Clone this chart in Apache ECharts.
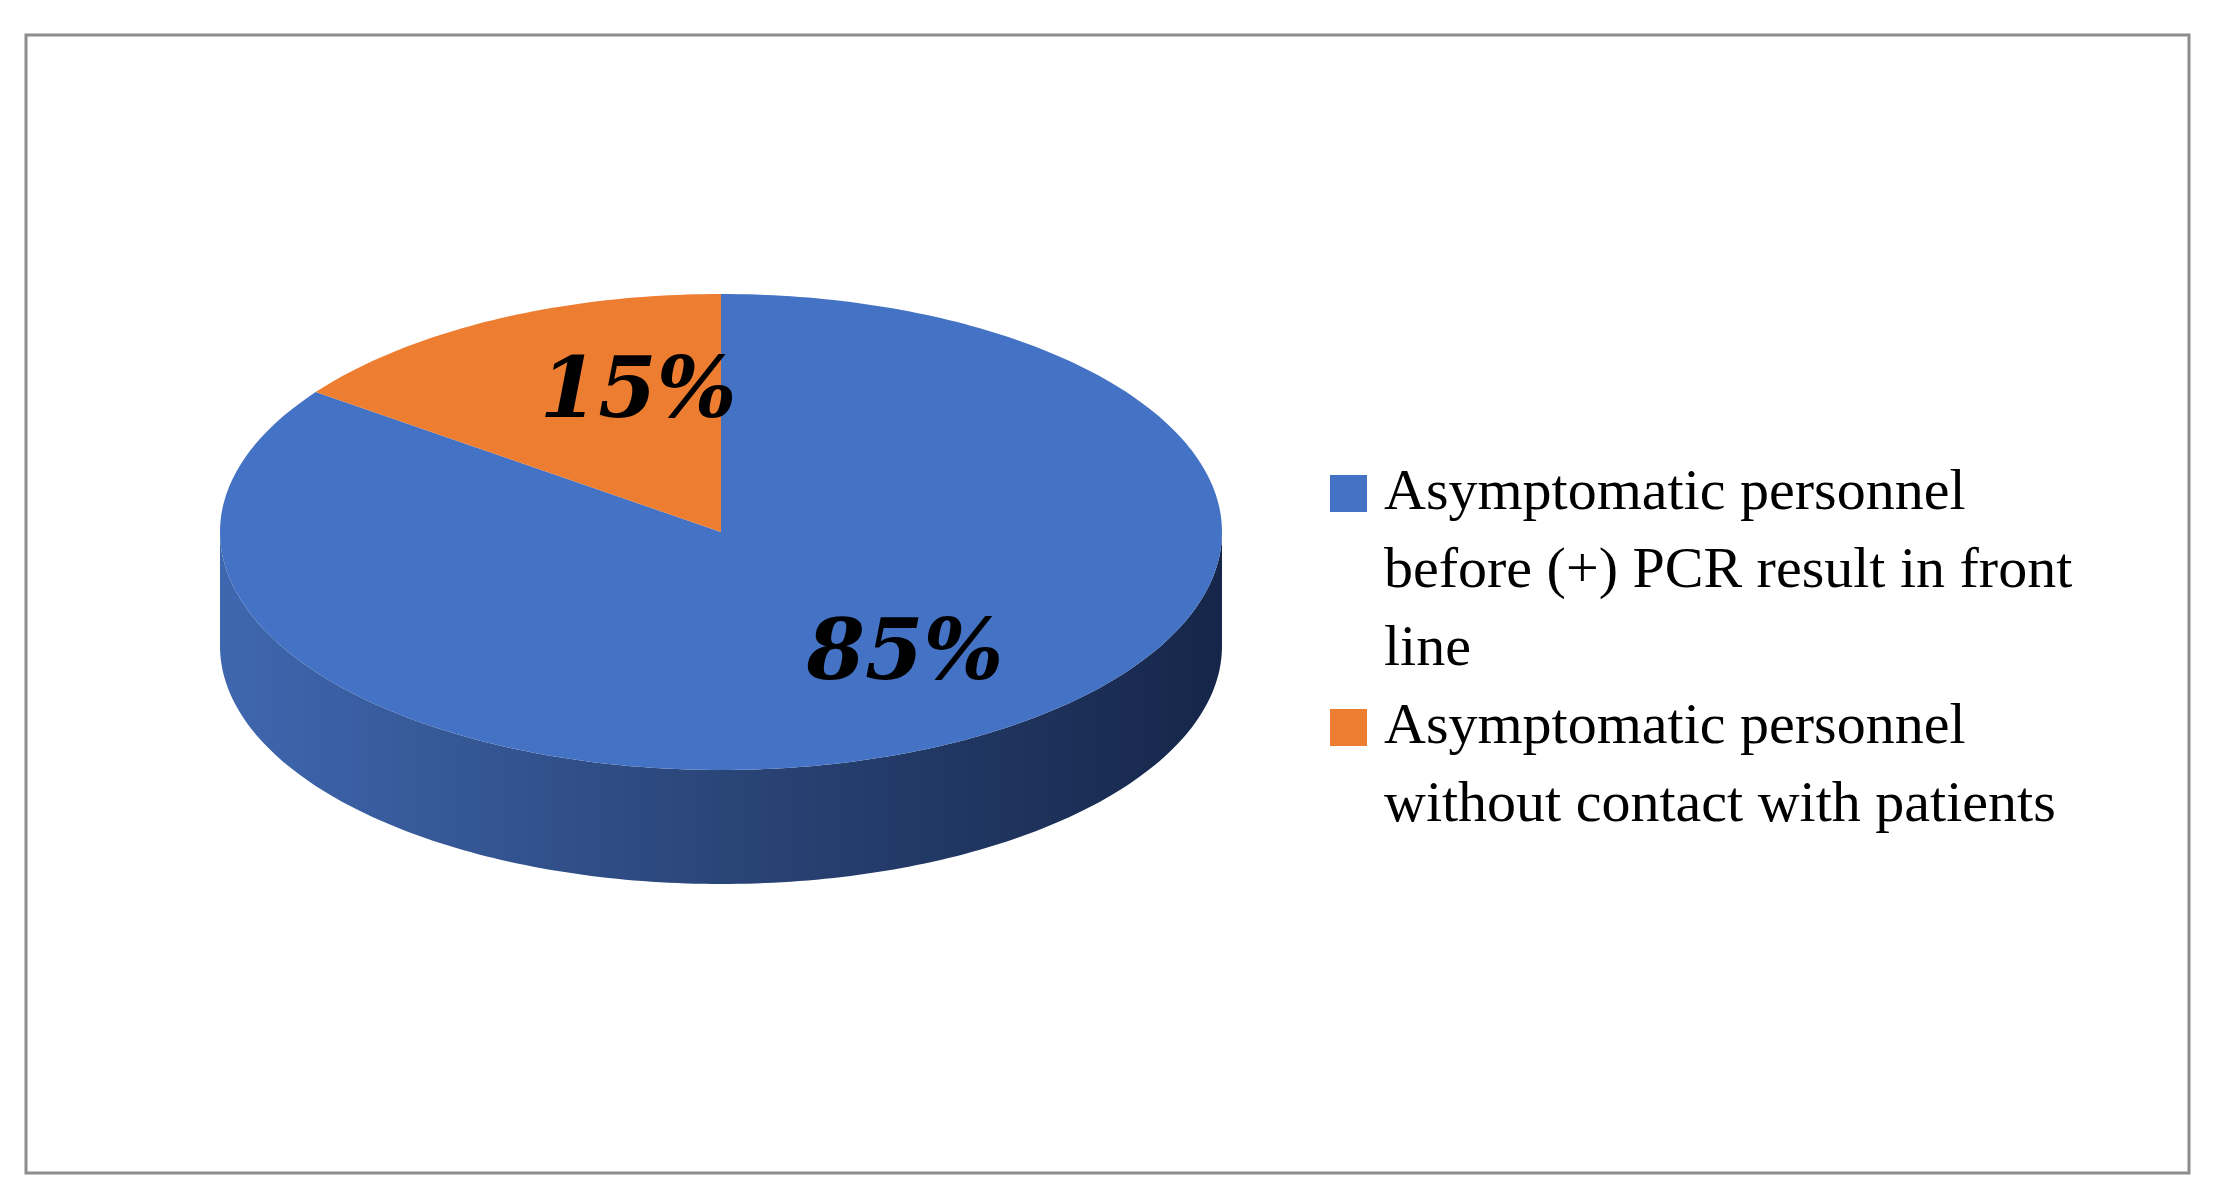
<!DOCTYPE html>
<html>
<head>
<meta charset="utf-8">
<script src="https://cdn.jsdelivr.net/npm/echarts@6/dist/echarts.min.js"></script>
<style>
  html, body { margin: 0; padding: 0; background: #fff; }
  #main { width: 2214px; height: 1202px; }
</style>
</head>
<body>
<div id="main"></div>
<script>
var categories = [
  'Asymptomatic personnel\nbefore (+) PCR result in front\nline',
  'Asymptomatic personnel\nwithout contact with patients'
];
var values = [85, 15];
var colors = ['#4472c4', '#ed7d31'];

var chart = echarts.init(document.getElementById('main'));

var cx = 721, cy = 532, rx = 501, ry = 238, depth = 114;
var total = values.reduce(function (a, b) { return a + b; }, 0);

// angles in degrees, counter-clockwise from +x; the small slice starts at 12 o'clock going left
var slices = [];
(function () {
  var start = 90 + values[1] / total * 360;
  slices[1] = [90, start];
  slices[0] = [start, 450];
})();

function pt(t, dy) {
  var r = t * Math.PI / 180;
  return [cx + rx * Math.cos(r), cy - ry * Math.sin(r) + (dy || 0)];
}

function renderItem(params, api) {
  var i = params.dataIndex;
  var a0 = slices[i][0], a1 = slices[i][1];
  var children = [];
  // top face
  var top = [[cx, cy]];
  for (var t = a0; t <= a1 + 0.001; t += 1) top.push(pt(Math.min(t, a1)));
  // side face (front half only: 180..360)
  var s0 = Math.max(a0, 180), s1 = Math.min(a1, 360);
  if (s1 > s0) {
    var side = [];
    for (var u = s0; u <= s1 + 0.001; u += 1) side.push(pt(Math.min(u, s1)));
    for (var w = s1; w >= s0 - 0.001; w -= 1) side.push(pt(Math.max(w, s0), depth));
    children.push({
      type: 'polygon', z2: 1,
      shape: { points: side },
      style: {
        fill: new echarts.graphic.LinearGradient(0, 0, 1, 0, [
          { offset: 0, color: i === 0 ? '#3f67b0' : '#c86520' },
          { offset: 0.5, color: i === 0 ? '#2a4578' : '#9a4a15' },
          { offset: 1, color: i === 0 ? '#16264a' : '#6a3210' }
        ])
      }
    });
  }
  children.push({
    type: 'polygon', z2: 2,
    shape: { points: top },
    style: { fill: colors[i] }
  });
  var mid = (a0 + a1) / 2;
  var lr = i === 0 ? 0.64 : 0.6;
  var ma = i === 0 ? mid + 8 : mid - 11;
  var lp = [cx + rx * lr * Math.cos(ma * Math.PI / 180), cy - ry * lr * Math.sin(ma * Math.PI / 180)];
  children.push({
    type: 'text', z2: 3,
    style: {
      text: values[i] + '%', x: lp[0], y: lp[1],
      align: 'center', verticalAlign: 'middle',
      font: 'italic bold 84px "DejaVu Serif", serif', fill: '#000'
    }
  });
  return { type: 'group', children: children };
}

var legendGraphics = [];
var lineH = 78, legTop = 494;
categories.forEach(function (name, i) {
  var y = legTop + (i === 0 ? 0 : categories[0].split('\n').length * lineH);
  legendGraphics.push({
    type: 'rect', shape: { x: 1330, y: y - 19, width: 37, height: 37 },
    style: { fill: colors[i] }
  });
  legendGraphics.push({
    type: 'text',
    style: {
      text: name, x: 1384, y: y - lineH / 2,
      font: '58px "Liberation Serif", serif', lineHeight: lineH,
      fill: '#000', verticalAlign: 'top'
    }
  });
});
legendGraphics.push({
  type: 'rect', shape: { x: 26, y: 35, width: 2163, height: 1138 },
  style: { fill: 'none', stroke: '#8c8c8c', lineWidth: 3 }
});

chart.setOption({
  backgroundColor: '#fff',
  graphic: legendGraphics,
  series: [{
    type: 'custom',
    coordinateSystem: 'none',
    renderItem: renderItem,
    data: values.map(function (v, i) { return { name: categories[i], value: v }; })
  }]
});
</script>
</body>
</html>
